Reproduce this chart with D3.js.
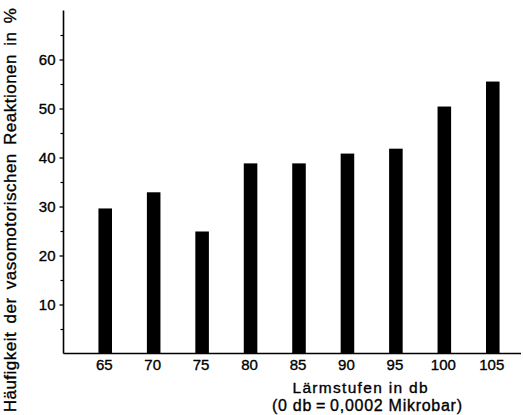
<!DOCTYPE html>
<html>
<head>
<meta charset="utf-8">
<script src="https://cdn.jsdelivr.net/npm/d3@7"></script>
<style>
  html, body { margin: 0; padding: 0; background: #fff; }
  svg { display: block; }
  text { font-family: "Liberation Sans", Arial, sans-serif; fill: #000; stroke: #000; stroke-width: 0.35px; }
</style>
</head>
<body>
<svg id="chart" width="523" height="415"></svg>
<script>
// Noise levels (dB) and share of vasomotor reactions (%)
const levels = ["65", "70", "75", "80", "85", "90", "95", "100", "105"];
const reactions = [29.6, 32.9, 24.9, 38.8, 38.8, 40.8, 41.8, 50.4, 55.5];
const majorTicks = [10, 20, 30, 40, 50, 60];
const minorTicks = [5, 15, 25, 35, 45, 55, 65];
const yTitle = "Häufigkeit der vasomotorischen Reaktionen in %";
const xTitle = "Lärmstufen in db";
const xSubtitle = "(0 db\u2009=\u20090,0002 Mikrobar)";

(function () {
  const svg = d3.select("#chart");
  const m = { left: 63.5, right: 521, bottom: 353.5, top: 10 };

  const x = d3.scaleBand()
    .domain(levels)
    .range([81, 517])
    .paddingInner(0.72)
    .paddingOuter(0.36);

  const y = d3.scaleLinear()
    .domain([0, 70])
    .range([m.bottom, m.top + 0.5]);

  // bars
  svg.append("g")
    .selectAll("rect")
    .data(levels)
    .join("rect")
    .attr("x", d => x(d))
    .attr("width", x.bandwidth())
    .attr("y", (d, i) => y(reactions[i]))
    .attr("height", (d, i) => y(0) - y(reactions[i]))
    .attr("fill", "#000");

  // y axis with labelled major ticks
  const yAxis = svg.append("g")
    .attr("transform", `translate(${m.left},0)`)
    .call(d3.axisLeft(y).tickValues(majorTicks).tickSize(4).tickPadding(4).tickSizeOuter(0));
  yAxis.select(".domain").remove();
  yAxis.selectAll("line").attr("stroke", "#000").attr("stroke-width", 1.3);
  yAxis.selectAll("text").attr("font-size", 15);

  // unlabelled minor ticks
  svg.append("g")
    .attr("transform", `translate(${m.left},0)`)
    .call(d3.axisLeft(y).tickValues(minorTicks).tickSize(3).tickFormat(""))
    .call(g => g.select(".domain").remove())
    .selectAll("line").attr("stroke", "#000").attr("stroke-width", 1.2);

  // axis lines
  svg.append("line")
    .attr("x1", m.left).attr("x2", m.left)
    .attr("y1", y(70)).attr("y2", y(0))
    .attr("stroke", "#000").attr("stroke-width", 1.6);
  svg.append("line")
    .attr("x1", m.left).attr("x2", m.right)
    .attr("y1", y(0)).attr("y2", y(0))
    .attr("stroke", "#000").attr("stroke-width", 1.6);

  // x tick labels
  const xAxis = svg.append("g")
    .attr("transform", `translate(-1,${m.bottom})`)
    .call(d3.axisBottom(x).tickSize(0).tickPadding(6));
  xAxis.select(".domain").remove();
  xAxis.selectAll("text").attr("font-size", 15);

  // titles
  svg.append("text")
    .attr("x", 360).attr("y", 393)
    .attr("text-anchor", "middle")
    .attr("font-size", 15.5)
    .attr("textLength", 135)
    .attr("lengthAdjust", "spacing")
    .text(xTitle);
  svg.append("text")
    .attr("x", 367).attr("y", 411)
    .attr("text-anchor", "middle")
    .attr("font-size", 16)
    .attr("textLength", 190)
    .attr("lengthAdjust", "spacing")
    .text(xSubtitle);

  svg.append("text")
    .attr("transform", "translate(15.5,210) rotate(-90)")
    .attr("text-anchor", "middle")
    .attr("font-size", 17)
    .attr("letter-spacing", 0.5)
    .attr("word-spacing", 3)
    .text(yTitle);
})();
</script>
</body>
</html>
